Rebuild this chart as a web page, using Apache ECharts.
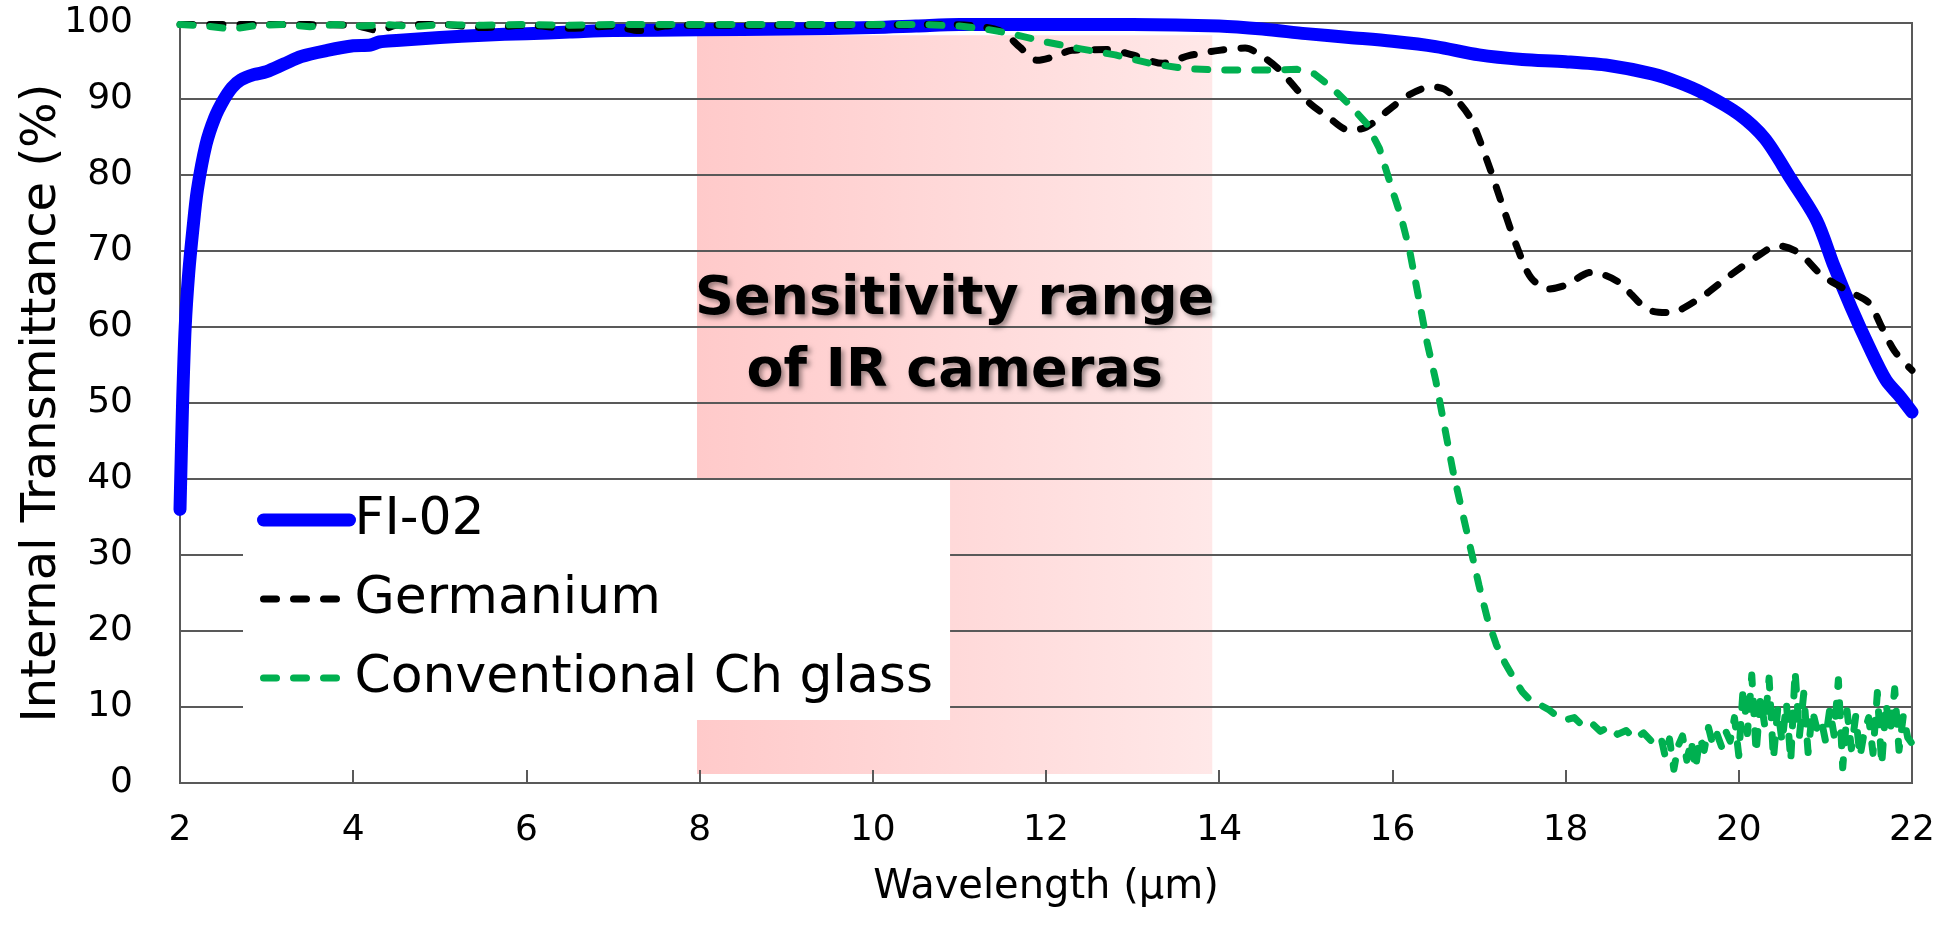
<!DOCTYPE html>
<html>
<head>
<meta charset="utf-8">
<script src="https://cdn.jsdelivr.net/npm/echarts@6/dist/echarts.min.js"></script>
<style>
html,body{margin:0;padding:0;background:#fff;}
#chart{width:1944px;height:929px;}
</style>
</head>
<body>
<div id="chart"></div>
<script>
// ---- data ----
var seriesNames = ['FI-02', 'Germanium', 'Conventional Ch glass'];
var xTicks = [2, 4, 6, 8, 10, 12, 14, 16, 18, 20, 22];
var bandRange = [7.97, 13.92];   // sensitivity range of IR cameras (μm)
var bandLabel = 'Sensitivity range\nof IR cameras';

var fiX = [2.0,2.03,2.06,2.1,2.15,2.2,2.3,2.4,2.5,2.6,2.7,2.85,3.0,3.2,3.4,3.7,4.0,4.2,4.3,4.5,5.0,5.5,6.0,6.5,7.0,8.0,9.0,10.0,10.5,11.0,12.0,13.0,14.0,14.5,15.0,15.5,16.0,16.5,17.0,17.5,18.0,18.5,19.0,19.3,19.6,20.0,20.3,20.6,20.9,21.1,21.3,21.5,21.7,21.85,22.0];
var fiY = [36,50,60,67,73,78,84,87.5,89.8,91.5,92.5,93.2,93.6,94.6,95.6,96.4,97.0,97.1,97.5,97.7,98.1,98.4,98.6,98.8,99.0,99.1,99.2,99.4,99.6,99.8,99.8,99.8,99.6,99.2,98.6,98.1,97.6,96.9,95.8,95.2,94.9,94.4,93.3,92.2,90.7,88.0,84.8,79.5,74.0,68.0,62.5,57.5,53.0,51.0,48.8];

var geX = [2.0,3,4,4.3,4.5,5,5.5,6,6.5,7,7.3,7.6,8,9,10,10.8,11.2,11.5,11.7,11.9,12.1,12.3,12.7,13.0,13.35,13.65,14.0,14.3,14.5,14.7,14.9,15.05,15.25,15.5,15.7,15.95,16.2,16.45,16.6,16.75,16.9,17.1,17.3,17.45,17.6,17.8,18.0,18.3,18.6,18.95,19.2,19.55,19.9,20.2,20.45,20.7,20.95,21.25,21.5,21.65,21.8,22.0];
var geY = [99.8,99.8,99.7,99.0,99.7,99.8,99.4,99.7,99.3,99.6,99.0,99.6,99.7,99.7,99.7,99.8,99.6,98.8,96.8,95.1,95.6,96.4,96.5,95.8,94.7,95.7,96.4,96.7,95.6,93.8,91.2,89.4,87.7,85.9,86.3,88.5,90.6,91.6,91.3,89.8,87.5,81.7,75,70.2,66.5,65,65.5,67.2,66,62.3,61.9,63.8,66.8,69.2,70.7,69.7,66.9,64.8,63.2,60,56.8,54.3];

var chX = [2.0,2.3,2.6,2.9,3.2,3.5,3.8,4.1,4.4,4.7,5.0,5.5,6.0,6.5,7.0,8.0,9.0,10.0,10.6,11.0,11.3,11.6,12.0,12.4,12.8,13.2,13.6,14.0,14.5,14.9,15.1,15.3,15.5,15.7,15.85,16.0,16.1,16.2,16.3,16.4,16.5,16.6,16.7,16.8,16.9,17.0,17.1,17.2,17.3,17.4,17.5,17.6,17.7,17.8,17.9,18.0,18.1,18.2,18.3,18.4,18.5,18.6,18.7,18.8,18.9,19.0,19.1,19.15,19.2,19.25,19.3,19.35,19.4,19.45,19.5,19.55,19.6,19.65,19.7,19.75,19.8,19.85,19.9,19.95,20.0,20.05,20.1,20.15,20.2,20.25,20.3,20.35,20.4,20.45,20.5,20.55,20.6,20.65,20.7,20.75,20.8,20.85,20.9,20.95,21.0,21.05,21.1,21.15,21.2,21.25,21.3,21.35,21.4,21.45,21.5,21.55,21.6,21.65,21.7,21.75,21.8,21.85,21.9,21.95,22.0];
var chY = [99.8,99.6,99.2,99.7,99.8,99.5,99.8,99.6,99.8,99.5,99.8,99.7,99.8,99.7,99.8,99.8,99.8,99.8,99.8,99.6,99.2,98.6,97.5,96.6,95.8,94.7,94.0,93.8,93.8,93.9,93.3,91.5,89.3,86.8,83.5,78,74.5,70,64,58,53,47,41,36,31,26,21.5,18.2,15.8,13.8,12,10.8,10.3,9.7,8.8,8.3,8.6,7.5,7.9,6.8,7.4,6.4,6.9,5.8,6.6,5.4,6.1,3.5,5.8,1.8,4.9,6.2,3.0,5.6,1.9,6.0,4.3,7.3,5.0,6.4,4.8,6.8,5.5,8.6,3.6,12.5,6.5,14.2,4.0,11.2,7.5,13.8,3.2,9.8,5.4,10.5,2.9,14.7,6.2,11.8,4.0,9.5,7.2,8.4,5.6,9.7,6.3,13.6,2.0,9.5,4.5,8.8,3.5,6.8,8.6,3.9,11.9,2.4,10.5,6.7,12.4,4.3,8.9,6.0,5.2];

function pairs(xs, ys) { return xs.map(function (x, i) { return [x, ys[i]]; }); }

var FONT = 'DejaVu Sans';
var chart = echarts.init(document.getElementById('chart'));
chart.setOption({
  animation: false,
  backgroundColor: '#fff',
  grid: { left: 180, right: 32, top: 23, bottom: 146, show: true, borderColor: '#595959', borderWidth: 2, backgroundColor: 'transparent' },
  legend: {
    orient: 'vertical', left: 243, top: 480,
    padding: [14, 17, 16, 14], itemGap: 27, itemWidth: 86, itemHeight: 52,
    backgroundColor: '#ffffff', z: 10,
    itemStyle: { opacity: 0 },
    lineStyle: { width: 'inherit', type: 'inherit', cap: 'round', color: 'inherit' },
    textStyle: { fontFamily: FONT, fontSize: 52, color: '#000' },
    data: seriesNames
  },
  xAxis: {
    type: 'value', min: xTicks[0], max: xTicks[xTicks.length - 1], interval: 2, z: 2,
    name: 'Wavelength (μm)', nameLocation: 'middle', nameGap: 85, nameMoveOverlap: false,
    nameTextStyle: { fontFamily: FONT, fontSize: 40, color: '#000' },
    axisLine: { show: true, lineStyle: { color: '#595959', width: 2 } },
    axisTick: { show: true, inside: true, length: 13, lineStyle: { color: '#595959', width: 2 } },
    axisLabel: { fontFamily: FONT, fontSize: 36, color: '#000', margin: 30 },
    splitLine: { show: false }
  },
  yAxis: {
    type: 'value', min: 0, max: 100, interval: 10, z: 2,
    name: 'Internal Transmittance (%)', nameLocation: 'middle', nameGap: 113, nameMoveOverlap: false,
    nameTextStyle: { fontFamily: FONT, fontSize: 48, color: '#000' },
    axisLine: { show: true, lineStyle: { color: '#595959', width: 2 } },
    axisTick: { show: false },
    axisLabel: { fontFamily: FONT, fontSize: 36, color: '#000', margin: 47 },
    splitLine: { show: true, lineStyle: { color: '#595959', width: 2 } }
  },
  series: [
    {
      name: seriesNames[0], type: 'line', z: 3, symbol: 'none', smooth: 0.3,
      lineStyle: { color: '#0000ff', width: 13, cap: 'round', join: 'round' },
      itemStyle: { color: '#0000ff' },
      data: pairs(fiX, fiY),
      markArea: {
        silent: true, z: 1,
        itemStyle: {
          color: { type: 'linear', x: 0, y: 0, x2: 1, y2: 0,
            colorStops: [{ offset: 0, color: '#ffcaca' }, { offset: 1, color: '#ffe8e8' }] }
        },
        label: { show: false },
        data: [[{ xAxis: bandRange[0], yAxis: 1.2 }, { xAxis: bandRange[1], yAxis: 98.4 }]]
      }
    },
    {
      name: seriesNames[1], type: 'line', z: 4, symbol: 'none', smooth: 0.3,
      lineStyle: { color: '#000000', width: 7, type: [13, 17], cap: 'round', join: 'round' },
      itemStyle: { color: '#000000' },
      data: pairs(geX, geY),
      markArea: {
        silent: true, z: 6,
        itemStyle: { color: 'rgba(0,0,0,0)' },
        label: {
          show: true, position: ['50%', 229], align: 'center', verticalAlign: 'top',
          formatter: bandLabel, fontFamily: FONT, fontSize: 54, fontWeight: 'bold',
          lineHeight: 72, color: '#000',
          textShadowColor: 'rgba(0,0,0,0.4)', textShadowBlur: 5, textShadowOffsetX: 3, textShadowOffsetY: 3
        },
        data: [[{ xAxis: bandRange[0], yAxis: 1.2 }, { xAxis: bandRange[1], yAxis: 98.4 }]]
      }
    },
    {
      name: seriesNames[2], type: 'line', z: 5, symbol: 'none',
      lineStyle: { color: '#00b050', width: 7, type: [13, 17], cap: 'round', join: 'round' },
      itemStyle: { color: '#00b050' },
      data: pairs(chX, chY)
    }
  ]
});
</script>
</body>
</html>
